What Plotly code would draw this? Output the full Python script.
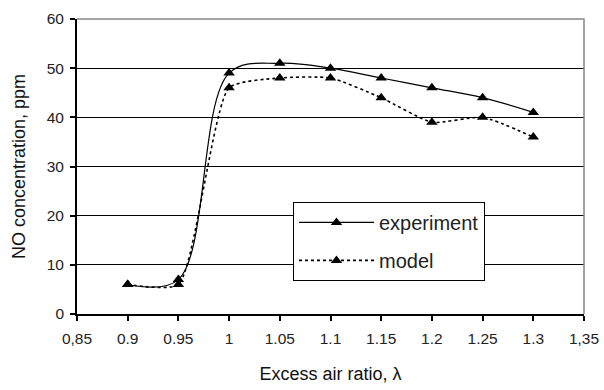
import plotly.graph_objects as go

lam = [0.9, 0.95, 1.0, 1.05, 1.1, 1.15, 1.2, 1.25, 1.3]
experiment = [6, 7, 49, 51, 50, 48, 46, 44, 41]
model = [6, 6, 46, 48, 48, 44, 39, 40, 36]

x_tickvals = [0.85, 0.9, 0.95, 1.0, 1.05, 1.1, 1.15, 1.2, 1.25, 1.3, 1.35]
x_ticktext = ["0,85", "0.9", "0.95", "1", "1.05", "1.1", "1.15", "1.2", "1.25", "1.3", "1,35"]
y_tickvals = [0, 10, 20, 30, 40, 50, 60]

FONT = "Liberation Sans"

fig = go.Figure()
fig.add_trace(go.Scatter(
    x=lam, y=experiment, name="experiment", mode="lines+markers", legendgroup="a",
    line=dict(color="black", width=1.2, shape="spline", smoothing=1.0),
    marker=dict(symbol="triangle-up", size=10, color="black"),
))
fig.add_trace(go.Scatter(
    x=lam, y=model, name="model", mode="lines+markers", legendgroup="b",
    line=dict(color="black", width=1.6, dash="dot", shape="spline", smoothing=0.55),
    marker=dict(symbol="triangle-up", size=10, color="black"),
))

fig.update_layout(
    width=604, height=390,
    margin=dict(l=77, r=20, t=19, b=76),
    paper_bgcolor="white", plot_bgcolor="white",
    font=dict(family=FONT, size=15, color="#222"),
    showlegend=True,
    legend=dict(
        x=0.426, y=0.38, xanchor="left", yanchor="top",
        bgcolor="white", bordercolor="black", borderwidth=1,
        font=dict(family=FONT, size=20, color="#222"),
        itemwidth=75, traceorder="grouped", tracegroupgap=9,
    ),
    shapes=[dict(type="path", xref="paper", yref="paper",
                 path="M 0 1 L 1 1 L 1 0", line=dict(color="#888", width=1.5),
                 layer="above")],
)
fig.update_xaxes(
    range=[0.85, 1.35], tickvals=x_tickvals, ticktext=x_ticktext,
    showgrid=False, zeroline=False, automargin=False,
    showline=True, linecolor="black", linewidth=1.8,
    ticks="outside", ticklen=5, tickcolor="black", tickwidth=1.5,
    ticklabelstandoff=4,
    tickfont=dict(family=FONT, size=15.5, color="#222"),
    title=dict(text="Excess air ratio, λ", font=dict(family=FONT, size=18, color="#111"), standoff=22),
)
fig.update_yaxes(
    range=[0, 60], tickvals=y_tickvals,
    showgrid=True, gridcolor="black", gridwidth=1, zeroline=False, automargin=False,
    showline=True, linecolor="black", linewidth=1.8,
    ticks="outside", ticklen=5, tickcolor="black", tickwidth=1.5,
    ticklabelstandoff=3,
    tickfont=dict(family=FONT, size=15.5, color="#222"),
    title=dict(text="NO concentration, ppm", font=dict(family=FONT, size=18, color="#111"), standoff=16),
)

fig.write_html(
    "out.html",
    config={"displayModeBar": False},
    post_script="document.body.style.margin='0';document.body.style.overflow='hidden';",
)
